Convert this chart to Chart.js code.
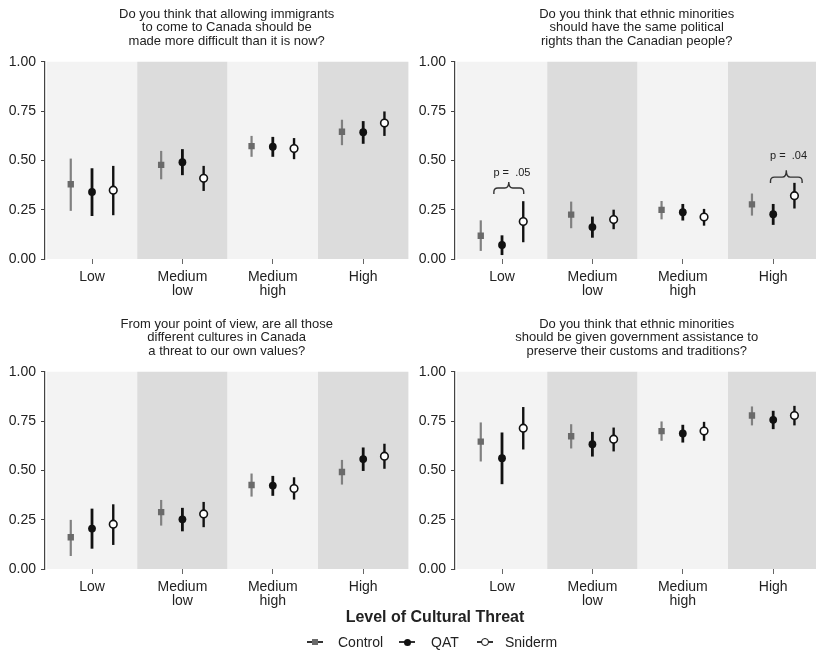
<!DOCTYPE html>
<html><head><meta charset="utf-8">
<script src="https://cdn.jsdelivr.net/npm/chart.js@4.4.1/dist/chart.umd.min.js"></script>
<style>
html,body{margin:0;padding:0;background:#fff;width:816px;height:650px;overflow:hidden;position:relative;font-family:'Liberation Sans',Arial,sans-serif;color:#222}
.panel{position:absolute;width:414px;height:300px}
.panel canvas{display:block}
#xtitle{position:absolute;left:235px;width:400px;top:607px;text-align:center;font-weight:bold;font-size:16px;line-height:20px}
.lg{position:absolute;top:634px;height:16px;font-size:14px;line-height:16px}
.sym{position:absolute;top:641px;width:16px;height:2px;background:#333}
.mk{position:absolute;box-sizing:border-box}
</style></head>
<body>
<div class="panel" style="left:0;top:0"><canvas id="c1" width="414" height="300"></canvas></div>
<div class="panel" style="left:410px;top:0"><canvas id="c2" width="414" height="300"></canvas></div>
<div class="panel" style="left:0;top:310px"><canvas id="c3" width="414" height="300"></canvas></div>
<div class="panel" style="left:410px;top:310px"><canvas id="c4" width="414" height="300"></canvas></div>
<div id="xtitle">Level of Cultural Threat</div>
<div class="sym" style="left:307px"></div><div class="mk" style="left:312px;top:639px;width:6px;height:6px;background:#6a6a6a"></div>
<div class="lg" style="left:338px">Control</div>
<div class="sym" style="left:399px"></div><div class="mk" style="left:404px;top:639px;width:7px;height:7px;border-radius:50%;background:#111"></div>
<div class="lg" style="left:431px">QAT</div>
<div class="sym" style="left:477px"></div><div class="mk" style="left:481px;top:638px;width:8px;height:8px;border-radius:50%;background:#fff;border:1.5px solid #111"></div>
<div class="lg" style="left:505px">Sniderm</div>
<script>
// ---------- data ----------
const categories = [['Low'], ['Medium', 'low'], ['Medium', 'high'], ['High']];
const seriesNames = ['Control', 'QAT', 'Sniderm'];
const yTicks = [0, 0.25, 0.5, 0.75, 1];

const title1 = ['Do you think that allowing immigrants', 'to come to Canada should be', 'made more difficult than it is now?'];
const title2 = ['Do you think that ethnic minorities', 'should have the same political', 'rights than the Canadian people?'];
const title3 = ['From your point of view, are all those', 'different cultures in Canada', 'a threat to our own values?'];
const title4 = ['Do you think that ethnic minorities', 'should be given government assistance to', 'preserve their customs and traditions?'];

// Panel 1: immigration
const immControl = [0.379, 0.477, 0.572, 0.645];
const immControlCI = [[0.244, 0.509], [0.404, 0.548], [0.518, 0.624], [0.577, 0.706]];
const immQAT = [0.340, 0.491, 0.569, 0.643];
const immQATCI = [[0.218, 0.460], [0.425, 0.557], [0.518, 0.619], [0.584, 0.699]];
const immSniderm = [0.349, 0.409, 0.560, 0.689];
const immSnidermCI = [[0.222, 0.472], [0.345, 0.472], [0.506, 0.613], [0.624, 0.748]];

// Panel 2: political rights
const rightsControl = [0.118, 0.225, 0.249, 0.277];
const rightsControlCI = [[0.041, 0.196], [0.156, 0.291], [0.201, 0.294], [0.220, 0.332]];
const rightsQAT = [0.071, 0.162, 0.237, 0.227];
const rightsQATCI = [[0.020, 0.120], [0.108, 0.215], [0.195, 0.279], [0.173, 0.279]];
const rightsSniderm = [0.190, 0.200, 0.213, 0.321];
const rightsSnidermCI = [[0.085, 0.293], [0.151, 0.250], [0.169, 0.254], [0.256, 0.386]];
const rightsPLabels = ['p =  .05', 'p =  .04'];
const rightsPCategory = [0, 3];

// Panel 3: threat to values
const threatControl = [0.161, 0.288, 0.426, 0.492];
const threatControlCI = [[0.066, 0.249], [0.220, 0.350], [0.367, 0.484], [0.428, 0.553]];
const threatQAT = [0.205, 0.252, 0.423, 0.557];
const threatQATCI = [[0.103, 0.306], [0.191, 0.310], [0.371, 0.472], [0.497, 0.616]];
const threatSniderm = [0.227, 0.279, 0.408, 0.572];
const threatSnidermCI = [[0.122, 0.328], [0.212, 0.340], [0.352, 0.465], [0.508, 0.635]];

// Panel 4: government assistance
const assistControl = [0.646, 0.673, 0.699, 0.778];
const assistControlCI = [[0.545, 0.743], [0.611, 0.734], [0.650, 0.748], [0.728, 0.824]];
const assistQAT = [0.562, 0.633, 0.687, 0.756];
const assistQATCI = [[0.430, 0.692], [0.570, 0.695], [0.641, 0.731], [0.709, 0.802]];
const assistSniderm = [0.714, 0.658, 0.699, 0.778];
const assistSnidermCI = [[0.606, 0.821], [0.596, 0.717], [0.650, 0.746], [0.728, 0.827]];

// ---------- styling ----------
Chart.defaults.font.family = "'Liberation Sans', Arial, Helvetica, sans-serif";
Chart.defaults.color = '#222';
const dodge = [-0.235, 0, 0.235];
const seriesStyle = [
  {pointStyle: 'rect', radius: 4.5, bg: '#6a6a6a', border: '#6a6a6a', bw: 0, barColor: '#808080', barWidth: 2.2},
  {pointStyle: 'circle', radius: 3.9, bg: '#111', border: '#111', bw: 0, barColor: '#111', barWidth: 2.8},
  {pointStyle: 'circle', radius: 3.8, bg: '#fff', border: '#111', bw: 1.6, barColor: '#111', barWidth: 2.4}
];

const bandsAndBars = {
  id: 'bandsAndBars',
  beforeDatasetsDraw(chart) {
    const {ctx, chartArea: a, scales: {x, y}} = chart;
    ctx.save();
    categories.forEach((c, i) => {
      const l = Math.max(x.getPixelForValue(i - 0.5), a.left + 1);
      const r = Math.min(x.getPixelForValue(i + 0.5), a.right);
      ctx.fillStyle = i % 2 ? '#dcdcdc' : '#f3f3f3';
      ctx.fillRect(l, a.top, r - l, a.bottom - a.top);
    });
    chart.data.datasets.forEach(ds => {
      ctx.strokeStyle = ds.barColor;
      ctx.lineWidth = ds.barWidth;
      ds.data.forEach((pt, i) => {
        const px = x.getPixelForValue(pt.x);
        ctx.beginPath();
        ctx.moveTo(px, y.getPixelForValue(ds.ci[i][0]));
        ctx.lineTo(px, y.getPixelForValue(ds.ci[i][1]));
        ctx.stroke();
      });
    });
    ctx.restore();
  },
  afterDatasetsDraw(chart, args, opts) {
    const notes = opts.notes || [];
    const {ctx, scales: {x, y}} = chart;
    ctx.save();
    notes.forEach(n => {
      const xl = x.getPixelForValue(n.cat + n.x0), xr = x.getPixelForValue(n.cat + n.x1);
      const ym = y.getPixelForValue(n.yLine), ye = y.getPixelForValue(n.yEnd), yp = y.getPixelForValue(n.yPeak);
      const xm = (xl + xr) / 2, r = 4;
      ctx.strokeStyle = '#333'; ctx.lineWidth = 1.4;
      ctx.beginPath();
      ctx.moveTo(xl, ye); ctx.lineTo(xl, ym + r);
      ctx.quadraticCurveTo(xl, ym, xl + r, ym);
      ctx.lineTo(xm - r, ym);
      ctx.quadraticCurveTo(xm, ym, xm, yp);
      ctx.quadraticCurveTo(xm, ym, xm + r, ym);
      ctx.lineTo(xr - r, ym);
      ctx.quadraticCurveTo(xr, ym, xr, ym + r);
      ctx.lineTo(xr, ye);
      ctx.stroke();
      ctx.fillStyle = '#222';
      ctx.font = "11px 'Liberation Sans', Arial, sans-serif";
      ctx.textAlign = 'center'; ctx.textBaseline = 'middle';
      ctx.fillText(n.label, x.getPixelForValue(n.cat + n.tx), y.getPixelForValue(n.ty));
    });
    ctx.restore();
  }
};

function makeChart(id, title, means, cis, notes) {
  const datasets = seriesNames.map((name, s) => ({
    label: name,
    data: means[s].map((v, i) => ({x: i + dodge[s], y: v})),
    ci: cis[s],
    pointStyle: seriesStyle[s].pointStyle,
    pointRadius: seriesStyle[s].radius,
    pointBackgroundColor: seriesStyle[s].bg,
    pointBorderColor: seriesStyle[s].border,
    pointBorderWidth: seriesStyle[s].bw,
    showLine: false,
    barColor: seriesStyle[s].barColor,
    barWidth: seriesStyle[s].barWidth
  }));
  return new Chart(document.getElementById(id), {
    type: 'scatter',
    data: {datasets},
    plugins: [bandsAndBars],
    options: {
      responsive: false, animation: false, events: [],
      layout: {padding: 0},
      plugins: {
        legend: {display: false}, tooltip: {enabled: false},
        title: {display: true, text: title, fullSize: false, color: '#222',
          font: {size: 13, weight: 'normal', lineHeight: 1.07}, padding: {top: 7, bottom: 13}},
        bandsAndBars: {notes}
      },
      scales: {
        x: {
          type: 'linear', min: -0.52, max: 3.5,
          afterBuildTicks: sc => { sc.ticks = categories.map((c, i) => ({value: i})); },
          afterFit: sc => { sc.height = 41; },
          border: {display: false},
          grid: {display: true, drawOnChartArea: false, drawTicks: true, tickLength: 5, color: '#666', lineWidth: 1},
          ticks: {callback: (v) => categories[Math.round(v)], font: {size: 14, lineHeight: 1.0}, padding: 6, color: '#222', maxRotation: 0, autoSkip: false}
        },
        y: {
          min: 0, max: 1,
          afterBuildTicks: sc => { sc.ticks = yTicks.map(v => ({value: v})); },
          afterFit: sc => { sc.width = 45; },
          border: {display: true, color: '#444', width: 1.2},
          grid: {display: true, drawOnChartArea: false, drawTicks: true, tickLength: 4, color: '#444'},
          ticks: {callback: v => v.toFixed(2), font: {size: 14}, padding: 5, color: '#222'}
        }
      }
    }
  });
}

makeChart('c1', title1, [immControl, immQAT, immSniderm], [immControlCI, immQATCI, immSnidermCI], []);
makeChart('c2', title2, [rightsControl, rightsQAT, rightsSniderm], [rightsControlCI, rightsQATCI, rightsSnidermCI], [
  {cat: rightsPCategory[0], label: rightsPLabels[0], x0: -0.09, x1: 0.24, yLine: 0.36, yEnd: 0.33, yPeak: 0.39, tx: 0.11, ty: 0.437},
  {cat: rightsPCategory[1], label: rightsPLabels[1], x0: -0.03, x1: 0.32, yLine: 0.415, yEnd: 0.385, yPeak: 0.45, tx: 0.17, ty: 0.52}
]);
makeChart('c3', title3, [threatControl, threatQAT, threatSniderm], [threatControlCI, threatQATCI, threatSnidermCI], []);
makeChart('c4', title4, [assistControl, assistQAT, assistSniderm], [assistControlCI, assistQATCI, assistSnidermCI], []);
</script>
</body></html>
